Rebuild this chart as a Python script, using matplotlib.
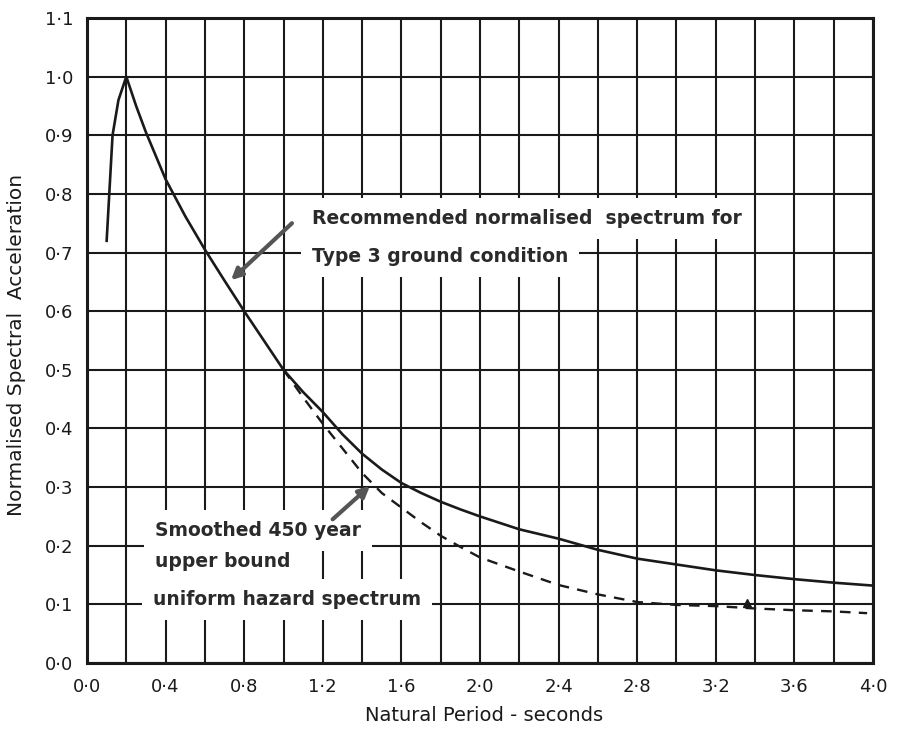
import matplotlib
matplotlib.use("Agg")
import matplotlib.pyplot as plt
import numpy as np

# ---- data ----
solid_x = [0.10, 0.13, 0.16, 0.20, 0.23, 0.25, 0.30, 0.40, 0.50, 0.60, 0.70, 0.80, 0.90,
           1.00, 1.10, 1.20, 1.30, 1.40, 1.50, 1.60, 1.70, 1.80, 1.90, 2.00, 2.20, 2.40,
           2.60, 2.80, 3.00, 3.20, 3.40, 3.60, 3.80, 4.00]
solid_y = [0.72, 0.90, 0.96, 1.00, 0.97, 0.95, 0.905, 0.825, 0.762, 0.705, 0.652, 0.60, 0.55,
           0.50, 0.462, 0.428, 0.39, 0.357, 0.33, 0.307, 0.29, 0.275, 0.262, 0.25, 0.228, 0.212,
           0.193, 0.178, 0.168, 0.158, 0.15, 0.143, 0.137, 0.132]

dashed_x = [1.00, 1.10, 1.20, 1.30, 1.40, 1.50, 1.60, 1.70, 1.80, 1.90, 2.00, 2.20, 2.40,
            2.60, 2.80, 3.00, 3.20, 3.40, 3.60, 3.80, 3.97]
dashed_y = [0.50, 0.453, 0.408, 0.366, 0.324, 0.29, 0.265, 0.24, 0.217, 0.198, 0.18, 0.156, 0.133,
            0.117, 0.104, 0.099, 0.097, 0.093, 0.09, 0.088, 0.085]

x_ticks = [0.0, 0.4, 0.8, 1.2, 1.6, 2.0, 2.4, 2.8, 3.2, 3.6, 4.0]
y_ticks = [0.0, 0.1, 0.2, 0.3, 0.4, 0.5, 0.6, 0.7, 0.8, 0.9, 1.0, 1.1]
x_ticklabels = ["0·0", "0·4", "0·8", "1·2", "1·6", "2·0", "2·4", "2·8", "3·2", "3·6", "4·0"]
y_ticklabels = ["0·0", "0·1", "0·2", "0·3", "0·4", "0·5", "0·6", "0·7", "0·8", "0·9", "1·0", "1·1"]

rec_lines = ["Recommended normalised  spectrum for", "Type 3 ground condition"]
smooth_lines = ["Smoothed 450 year", "upper bound", "uniform hazard spectrum"]

# ---- figure ----
fig = plt.figure(figsize=(9.02, 7.29), dpi=100)
ax = fig.add_axes([87/902, 1-663/729, 786/902, 645/729])
ax.set_xlim(0, 4.0)
ax.set_ylim(0, 1.1)

ink = "#1a1a1a"
ax.set_xticks(x_ticks)
ax.set_xticklabels(x_ticklabels, fontsize=13, color=ink)
ax.set_xticks(np.arange(0, 4.01, 0.2), minor=True)
ax.set_yticks(y_ticks)
ax.set_yticklabels(y_ticklabels, fontsize=13, color=ink)
ax.tick_params(axis="both", which="both", length=0)
ax.tick_params(axis="x", pad=11)
ax.tick_params(axis="y", pad=10)

ax.set_axisbelow(True)
ax.grid(True, which="both", color=ink, lw=1.5)
for s in ax.spines.values():
    s.set_linewidth(2.2)
    s.set_color(ink)

ax.plot(solid_x, solid_y, color=ink, lw=1.9, zorder=4)
ax.plot(dashed_x, dashed_y, color=ink, lw=1.7, dashes=(4.5, 3.5), zorder=4)
ax.plot([3.36], [0.103], marker="^", ms=6, color=ink, zorder=5)

box = dict(facecolor="white", edgecolor="none", pad=8)
txt = dict(fontsize=13.5, fontweight="bold", color="#2a2a2a", va="center", ha="left",
           bbox=box, zorder=3)
ax.text(1.145, 0.758, rec_lines[0], **txt)
ax.text(1.145, 0.693, rec_lines[1], **txt)
ax.text(0.346, 0.226, smooth_lines[0], **txt)
ax.text(0.346, 0.173, smooth_lines[1], **txt)
ax.text(0.336, 0.108, smooth_lines[2], **txt)

arrow = dict(arrowstyle="-|>", color="#555555", lw=3, mutation_scale=16, shrinkA=0, shrinkB=0)
ax.annotate("", xy=(0.733, 0.653), xytext=(1.043, 0.75), arrowprops=arrow, zorder=5)
ax.annotate("", xy=(1.44, 0.302), xytext=(1.25, 0.245), arrowprops=arrow, zorder=5)

ax.set_xlabel("Natural Period - seconds", fontsize=14, color=ink)
ax.xaxis.set_label_coords(0.505, -0.066)
ax.set_ylabel("Normalised Spectral  Acceleration", fontsize=14.5, color=ink)
ax.yaxis.set_label_coords(-0.078, 0.493)

fig.savefig("out.png", dpi=100)
